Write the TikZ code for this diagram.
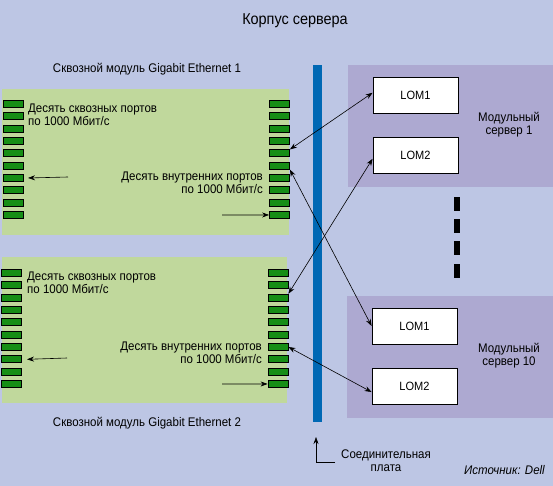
\documentclass[tikz,border=0pt]{standalone}
\usepackage{fontspec}
\setmainfont[FakeStretch=0.92]{Liberation Sans}
\usetikzlibrary{arrows.meta,calc}
\definecolor{bgc}{HTML}{BDC6E4}
\definecolor{greenbox}{HTML}{C0D89C}
\definecolor{portc}{HTML}{168E16}
\definecolor{purplebox}{HTML}{ADA9D1}
\definecolor{barc}{HTML}{0068B4}
\tikzset{
  port/.style={draw=black, line width=0.8pt, fill=portc, minimum width=20pt, minimum height=7pt, inner sep=0pt},
  lom/.style={draw=black, line width=0.8pt, fill=white, minimum width=85pt, minimum height=36pt, inner sep=0pt, font=\fontsize{12}{14}\selectfont},
  lbl/.style={inner sep=0pt, font=\fontsize{12.5}{13}\selectfont, align=left},
  conn/.style={line width=0.6pt, {Stealth[length=7pt,width=5pt]}-{Stealth[length=7pt,width=5pt]}},
  oneway/.style={line width=0.6pt, -{Stealth[length=7pt,width=5pt]}},
  dashbox/.style={fill=black}
}
\begin{document}
\begin{tikzpicture}[x=1pt,y=-1pt]
\fill[bgc] (0,0) rectangle (553,486);
\useasboundingbox (0,0) rectangle (553,486);

% title
\node[inner sep=0pt, font=\fontsize{15.7}{17}\selectfont] (title) at (295,21) {Корпус сервера};

% modules
\fill[greenbox] (2,89) rectangle (289,235);
\fill[greenbox] (2,257) rectangle (287,403);
\node[lbl] (m1name) at (147,69) {Сквозной модуль Gigabit Ethernet 1};
\node[lbl] (m2name) at (147,423) {Сквозной модуль Gigabit Ethernet 2};

\foreach \i in {1,...,10}{
  \node[port] (m1L\i) at (13,{104+12.33*(\i-1)}) {};
  \node[port] (m1R\i) at (279.5,{104+12.33*(\i-1)}) {};
  \node[port] (m2L\i) at (11.5,{273+12.33*(\i-1)}) {};
  \node[port] (m2R\i) at (278,{273+12.33*(\i-1)}) {};
}

\node[lbl, anchor=west] (m1t1) at (28,114.5) {Десять сквозных портов\\по 1000 Мбит/с};
\node[lbl, anchor=east, align=right] (m1t2) at (263,183) {Десять внутренних портов\\по 1000 Мбит/с};
\node[lbl, anchor=west] (m2t1) at (27,283) {Десять сквозных портов\\по 1000 Мбит/с};
\node[lbl, anchor=east, align=right] (m2t2) at (262,353) {Десять внутренних портов\\по 1000 Мбит/с};

\coordinate (a1s) at (68,177);
\coordinate (a2s) at (222,215);
\coordinate (a3s) at (67,358);
\coordinate (a4s) at (222,384);
\draw[oneway] (a1s) -- (m1L7.east -| 28,0);
\draw[oneway] (a2s) -- (m1R10.west);
\draw[oneway] (a3s) -- (m2L8.east -| 27,0);
\draw[oneway] (a4s) -- (m2R10.west);

% backplane
\fill[barc] (313,65) rectangle (322,422);

% servers
\fill[purplebox] (348,65) rectangle (553,187);
\fill[purplebox] (347,296) rectangle (553,418);
\node[lom] (s1LOM1) at (415.5,95) {LOM1};
\node[lom] (s1LOM2) at (415.5,155) {LOM2};
\node[lom] (s10LOM1) at (414.5,326) {LOM1};
\node[lom] (s10LOM2) at (414.5,386) {LOM2};
\node[lbl, align=center] (s1name) at (509,125) {Модульный\\сервер 1};
\node[lbl, align=center] (s10name) at (509,356) {Модульный\\сервер 10};

% dashes
\foreach \y in {197,219,241,264}{
  \fill[dashbox] (454,\y) rectangle (460,\y+14);
}

% connectors
\draw[conn] (m1R5.north east) -- (s1LOM1.177);
\draw[conn] (m1R6.south east) -- (s10LOM1.west);
\draw[conn] (m2R3.north east) -- (s1LOM2.185);
\draw[conn] (m2R7.east) -- (s10LOM2.188);

% backplane label
\coordinate (bpc) at (335,462);
\draw[oneway] (bpc) -- (316,462) -- (316,437);
\node[lbl, align=center] (bplbl) at (386,460.5) {Соединительная\\плата};
\node[inner sep=0pt, font=\fontsize{12.5}{13}\itshape\selectfont, anchor=east] (src) at (545,470) {Источник: Dell};
\end{tikzpicture}
\end{document}
